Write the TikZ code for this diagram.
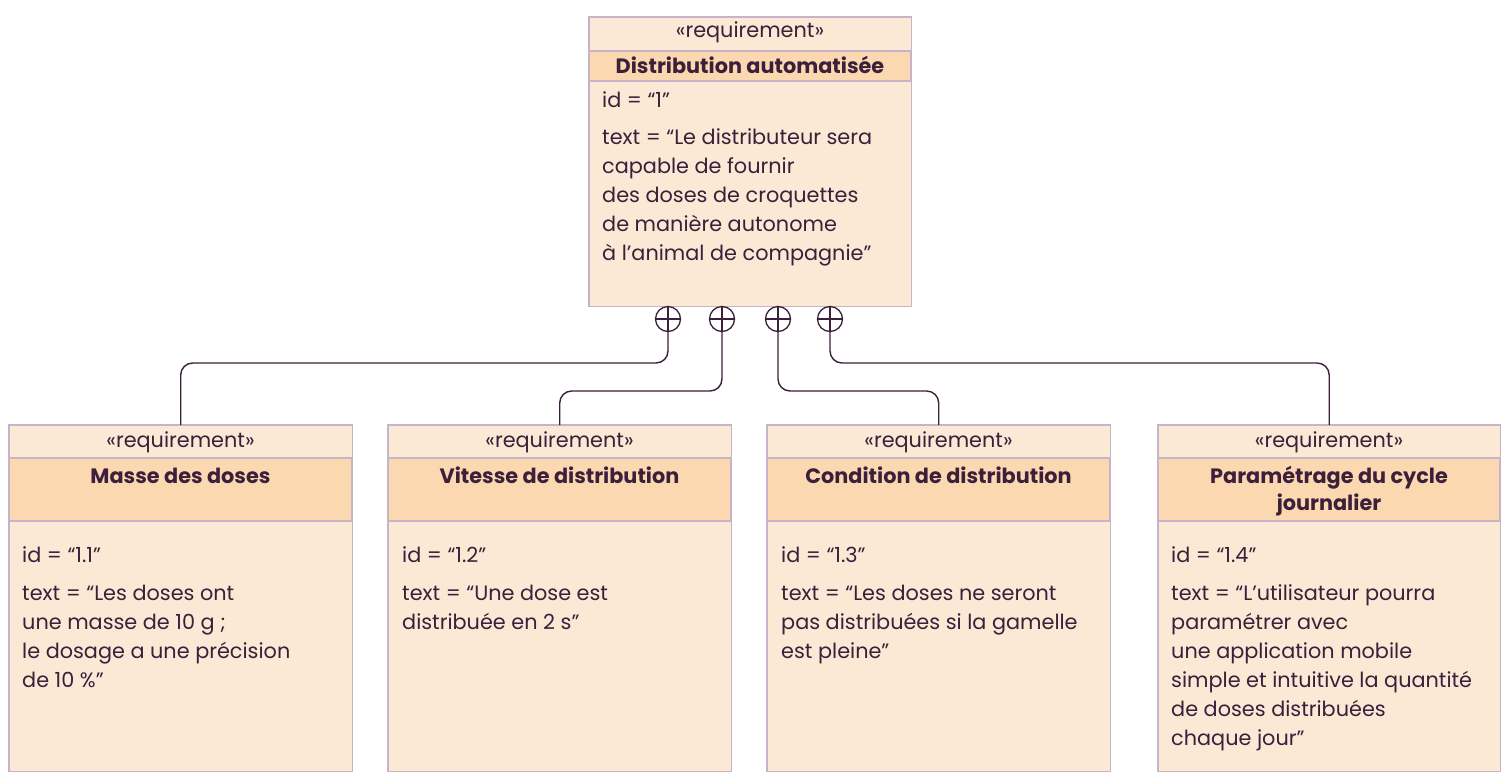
\documentclass[tikz,border=0pt]{standalone}
\usepackage{fontspec}
\setmainfont{Poppins}
\definecolor{bodyfill}{HTML}{FCE9D5}
\definecolor{headfill}{HTML}{FBD8B0}
\definecolor{edge}{HTML}{C8B4C8}
\definecolor{ink}{HTML}{3B1F3B}
\begin{document}
\begin{tikzpicture}[x=1pt,y=-1pt,
  boxbody/.style={fill=bodyfill,draw=none,inner sep=0,anchor=north west},
  headband/.style={fill=headfill,draw=edge,line width=1.1pt},
  outline/.style={draw=edge,line width=1.2pt},
  txt/.style={font=\fontsize{20.8}{29}\selectfont,text=ink,inner sep=0,align=left,anchor=base west},
  stereo/.style={font=\fontsize{20.8}{29}\selectfont,text=ink,inner sep=0,anchor=base},
  title/.style={font=\fontsize{20.8}{27}\selectfont\bfseries,text=ink,inner sep=0,align=center,anchor=base},
  plus/.style={circle,draw=ink,line width=1.3pt,minimum size=25pt,inner sep=0,fill=white},
  conn/.style={draw=ink,line width=1.4pt,rounded corners=12pt}]
\useasboundingbox (0,0) rectangle (1512,780);
\fill[white] (0,0) rectangle (1512,780);

% top box
\node[boxbody,minimum width=322pt,minimum height=289pt] (r0) at (589,17) {};
\path[headband] (589,51) rectangle (911,81);
\path[outline] (r0.north west) rectangle (r0.south east);
\node[stereo] (s0) at (750,37) {«requirement»};
\node[title] (t0) at (750,73) {Distribution automatisée};
\node[txt] (i0) at (602,107) {id = “1”};
\node[txt] (x0) at (602,260) {text = “Le distributeur sera\\capable de fournir\\des doses de croquettes\\de manière autonome\\à l’animal de compagnie”};

% bottom boxes
\node[boxbody,minimum width=343pt,minimum height=346pt] (r1) at (9,425) {};
\path[headband] (9,458) rectangle (352,521);
\path[outline] (r1.north west) rectangle (r1.south east);
\node[stereo] (s1) at (180.5,447) {«requirement»};
\node[title] (t1) at (180.5,483) {Masse des doses};
\node[txt] (i1) at (22,562) {id = “1.1”};
\node[txt] (x1) at (22,687) {text = “Les doses ont\\une masse de 10 g ;\\le dosage a une précision\\de 10 \%”};

\node[boxbody,minimum width=343pt,minimum height=346pt] (r2) at (388,425) {};
\path[headband] (388,458) rectangle (731,521);
\path[outline] (r2.north west) rectangle (r2.south east);
\node[stereo] (s2) at (559.5,447) {«requirement»};
\node[title] (t2) at (559.5,483) {Vitesse de distribution};
\node[txt] (i2) at (402,562) {id = “1.2”};
\node[txt] (x2) at (402,629) {text = “Une dose est\\distribuée en 2 s”};

\node[boxbody,minimum width=343pt,minimum height=346pt] (r3) at (767,425) {};
\path[headband] (767,458) rectangle (1110,521);
\path[outline] (r3.north west) rectangle (r3.south east);
\node[stereo] (s3) at (938.5,447) {«requirement»};
\node[title] (t3) at (938.5,483) {Condition de distribution};
\node[txt] (i3) at (781,562) {id = “1.3”};
\node[txt] (x3) at (781,658) {text = “Les doses ne seront\\pas distribuées si la gamelle\\est pleine”};

\node[boxbody,minimum width=342pt,minimum height=346pt] (r4) at (1158,425) {};
\path[headband] (1158,458) rectangle (1500,521);
\path[outline] (r4.north west) rectangle (r4.south east);
\node[stereo] (s4) at (1329,447) {«requirement»};
\node[title] (t4) at (1329,510) {Paramétrage du cycle\\journalier};
\node[txt] (i4) at (1171,562) {id = “1.4”};
\node[txt] (x4) at (1171,745) {text = “L’utilisateur pourra\\paramétrer avec\\une application mobile\\simple et intuitive la quantité\\de doses distribuées\\chaque jour”};

% containment circles
\node[plus] (c1) at (668,319) {};
\node[plus] (c2) at (722,319) {};
\node[plus] (c3) at (778,319) {};
\node[plus] (c4) at (830,319) {};
\foreach \c in {c1,c2,c3,c4}{
  \draw[ink,line width=1.2pt] (\c.north) -- (\c.south) (\c.west) -- (\c.east);
}

\coordinate (hA) at (0,363);
\coordinate (hB) at (0,391);
\draw[conn] (c1.south) |- (r1.north |- hA) -- (r1.north);
\draw[conn] (c2.south) |- (r2.north |- hB) -- (r2.north);
\draw[conn] (c3.south) |- (r3.north |- hB) -- (r3.north);
\draw[conn] (c4.south) |- (r4.north |- hA) -- (r4.north);
\end{tikzpicture}
\end{document}
